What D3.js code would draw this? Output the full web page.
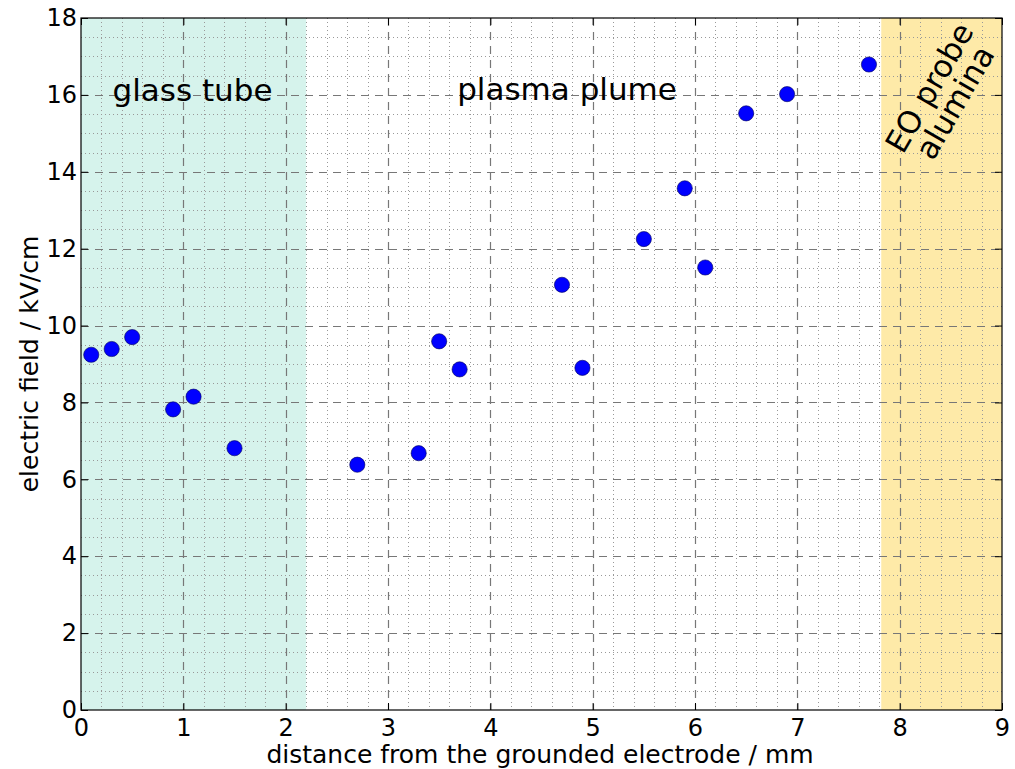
<!DOCTYPE html>
<html><head><meta charset="utf-8">
<script src="https://cdn.jsdelivr.net/npm/d3@7"></script>
<style>body{margin:0;background:#fff}svg{display:block}text{font-family:"DejaVu Sans",sans-serif;fill:#000}</style>
</head><body><svg id="c" width="1015" height="769"></svg>
<script>
const distance = [0.1,0.3,0.5,0.9,1.1,1.5,2.7,3.3,3.5,3.7,4.7,4.9,5.5,5.9,6.1,6.5,6.9,7.7];
const field    = [9.24,9.39,9.70,7.82,8.15,6.81,6.38,6.68,9.59,8.86,11.06,8.90,12.25,13.57,11.51,15.52,16.02,16.79];
const xTicks = [0,1,2,3,4,5,6,7,8,9];
const yTicks = [0,2,4,6,8,10,12,14,16,18];
const regions = [
  {name:"glass tube", from:0, to:2.2, color:"#d6f3ec"},
  {name:"plasma plume", from:2.2, to:7.82, color:"none"},
  {name:"EO probe alumina", from:7.82, to:9, color:"#feeaa8"}
];

const svg = d3.select("#c");
const m = {l:81, r:1002, t:18, b:710};
const x = d3.scaleLinear().domain([0,9]).range([m.l, m.r]);
const y = d3.scaleLinear().domain([0,18]).range([m.b, m.t]);

svg.selectAll("rect.reg").data(regions.filter(r=>r.color!=="none")).enter().append("rect")
  .attr("x", d=>x(d.from)).attr("width", d=>x(d.to)-x(d.from))
  .attr("y", m.t).attr("height", m.b-m.t).attr("fill", d=>d.color);

const xMinor = d3.range(0, 9.001, 0.2).filter(v=>Math.abs(v-Math.round(v))>1e-6);
const yMinor = d3.range(0, 18.001, 0.5).filter(v=>Math.abs(v/2-Math.round(v/2))>1e-6);
const g = svg.append("g");
g.selectAll("line.xm").data(xMinor).enter().append("line")
  .attr("x1", d=>Math.round(x(d))+0.5).attr("x2", d=>Math.round(x(d))+0.5).attr("y1", m.t).attr("y2", m.b)
  .attr("stroke","#999").attr("stroke-width",1).attr("stroke-dasharray","1,3");
g.selectAll("line.ym").data(yMinor).enter().append("line")
  .attr("y1", d=>Math.round(y(d))+0.5).attr("y2", d=>Math.round(y(d))+0.5).attr("x1", m.l).attr("x2", m.r)
  .attr("stroke","#999").attr("stroke-width",1).attr("stroke-dasharray","1,3");
g.selectAll("line.xM").data(xTicks.slice(1,-1)).enter().append("line")
  .attr("x1", d=>Math.round(x(d))+0.5).attr("x2", d=>Math.round(x(d))+0.5).attr("y1", m.t).attr("y2", m.b)
  .attr("stroke","#777").attr("stroke-width",1.2).attr("stroke-dasharray","8,6");
g.selectAll("line.yM").data(yTicks.slice(1,-1)).enter().append("line")
  .attr("y1", d=>Math.round(y(d))+0.5).attr("y2", d=>Math.round(y(d))+0.5).attr("x1", m.l).attr("x2", m.r)
  .attr("stroke","#777").attr("stroke-width",1.2).attr("stroke-dasharray","8,6");

const xa = svg.append("g").attr("transform",`translate(0,${m.b})`)
  .call(d3.axisBottom(x).tickValues(xTicks).tickFormat(d3.format("d")).tickSize(-7).tickPadding(0));
const ya = svg.append("g").attr("transform",`translate(${m.l},0)`)
  .call(d3.axisLeft(y).tickValues(yTicks).tickFormat(d3.format("d")).tickSize(-7).tickPadding(4));
[xa,ya].forEach(a=>{a.select(".domain").remove(); a.selectAll("text").attr("font-size",24).attr("font-family","DejaVu Sans"); a.selectAll("line").attr("stroke","#000");});
xa.selectAll("text").attr("y",25.5).attr("dy",0);
ya.selectAll("text").attr("x",-4);
svg.append("g").attr("transform",`translate(0,${m.t})`).call(d3.axisTop(x).tickValues(xTicks).tickSize(-7).tickFormat(""))
  .call(a=>{a.select(".domain").remove();a.selectAll("line").attr("stroke","#000");});
svg.append("g").attr("transform",`translate(${m.r},0)`).call(d3.axisRight(y).tickValues(yTicks).tickSize(-7).tickFormat(""))
  .call(a=>{a.select(".domain").remove();a.selectAll("line").attr("stroke","#000");});

svg.append("rect").attr("x",m.l).attr("y",m.t).attr("width",m.r-m.l).attr("height",m.b-m.t)
  .attr("fill","none").attr("stroke","#000").attr("stroke-width",1.2);

svg.append("g").selectAll("circle").data(distance).enter().append("circle")
  .attr("cx",(d,i)=>x(d)).attr("cy",(d,i)=>y(field[i])).attr("r",7.6)
  .attr("fill","#0000ff").attr("stroke","#000055").attr("stroke-width",0.6);

svg.append("text").attr("x",192.5).attr("y",101).attr("text-anchor","middle").attr("font-size",31).text(regions[0].name);
svg.append("text").attr("x",567).attr("y",100).attr("text-anchor","middle").attr("font-size",31).text(regions[1].name);
const eo = svg.append("text").attr("font-size",31).attr("text-anchor","middle")
  .attr("transform",`translate(942,95) rotate(-60)`);
eo.append("tspan").attr("x",0).attr("dy","-0.12em").text("EO probe");
eo.append("tspan").attr("x",0).attr("dy","0.95em").text("alumina");

svg.append("text").attr("x",540).attr("y",763).attr("text-anchor","middle").attr("font-size",25)
  .text("distance from the grounded electrode / mm");
svg.append("text").attr("transform",`translate(38,${(m.t+m.b)/2}) rotate(-90)`).attr("text-anchor","middle").attr("font-size",25)
  .text("electric field / kV/cm");
</script></body></html>
